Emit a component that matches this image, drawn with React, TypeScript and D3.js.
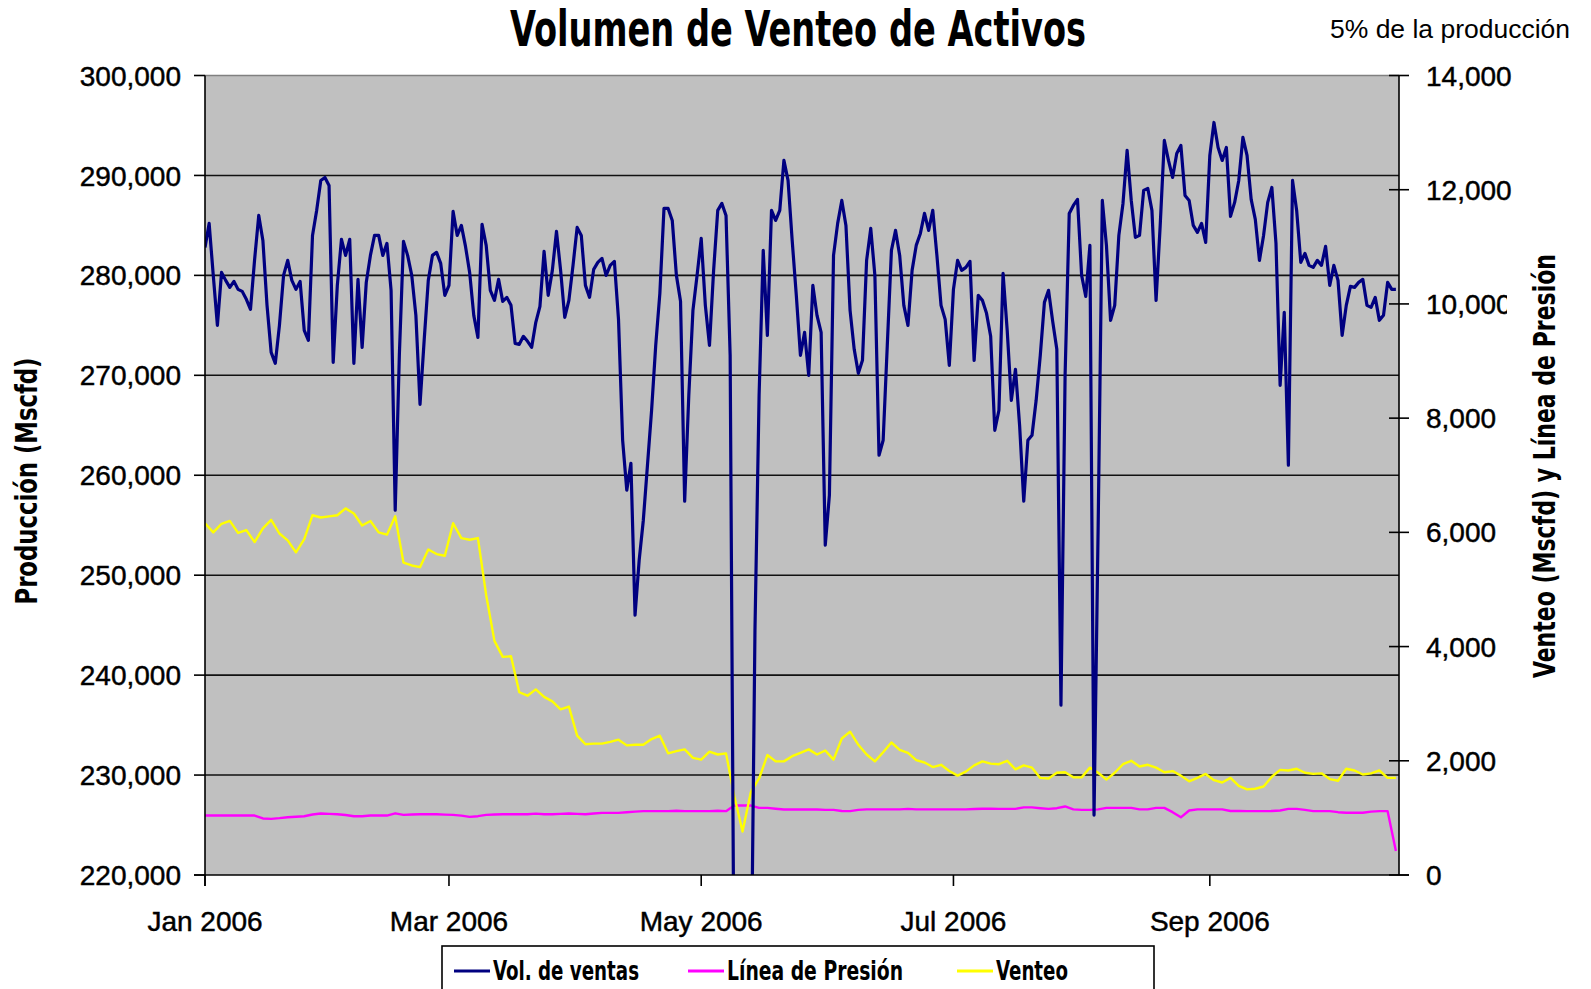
import React from 'react';
import * as d3 from 'd3';

// Vol. de ventas, daily from Jan 1 2006, in thousands of Mscfd (left axis)
const ventasK = [
  282.8, 285.2, 280.0, 275.0, 280.3, 279.5, 278.8, 279.4, 278.6, 278.4,
  277.6, 276.6, 281.6, 286.0, 283.5, 277.0, 272.3, 271.2, 275.0, 280.0,
  281.5, 279.5, 278.6, 279.4, 274.5, 273.5, 284.0, 286.5, 289.5, 289.8,
  289.0, 271.3, 279.0, 283.6, 282.0, 283.6, 271.2, 279.6, 272.8, 279.3,
  282.0, 284.0, 284.0, 282.0, 283.2, 278.5, 256.5, 272.0, 283.4, 282.0,
  280.0, 276.0, 267.1, 273.5, 279.5, 282.0, 282.3, 281.2, 278.0, 279.0,
  286.4, 284.0, 285.0, 282.9, 280.3, 276.0, 273.8, 285.1, 283.0, 278.5,
  277.5, 279.6, 277.4, 277.8, 277.0, 273.2, 273.1, 273.9, 273.4, 272.8,
  275.3, 276.9, 282.4, 278.0, 280.5, 284.4, 280.5, 275.8, 277.5, 281.0,
  284.8, 284.0, 279.0, 277.8, 280.6, 281.3, 281.7, 280.0, 281.0, 281.4,
  275.6, 263.5, 258.5, 261.2, 246.0, 251.5, 255.5, 261.0, 266.5, 273.0,
  278.2, 286.7, 286.7, 285.5, 280.0, 277.4, 257.4, 268.0, 276.5, 280.0,
  283.7, 277.0, 273.0, 280.5, 286.5, 287.2, 286.0, 272.0, 205.0, 205.0,
  205.0, 205.0, 205.0, 244.5, 268.0, 282.5, 274.0, 286.5, 285.5, 286.5,
  291.5, 289.5, 283.5, 278.0, 272.0, 274.3, 270.0, 279.0, 276.0, 274.3,
  253.0, 258.0, 282.0, 285.2, 287.5, 285.0, 276.5, 272.6, 270.2, 271.5,
  281.5, 284.7, 280.0, 262.0, 263.5, 273.0, 282.5, 284.5, 282.0, 277.0,
  275.0, 280.5, 283.0, 284.2, 286.2, 284.5, 286.5, 282.0, 277.0, 275.6,
  271.0, 278.6, 281.5, 280.5, 280.8, 281.4, 271.5, 278.0, 277.5, 276.2,
  273.9, 264.5, 266.5, 280.2, 274.5, 267.5, 270.6, 265.0, 257.4, 263.5,
  264.0, 267.5, 272.0, 277.3, 278.5, 275.4, 272.6, 237.0, 270.0, 286.2,
  287.0, 287.6, 280.0, 277.9, 283.0, 226.0, 255.0, 287.5, 283.0, 275.5,
  277.0, 284.0, 287.2, 292.5, 287.5, 283.8, 284.0, 288.5, 288.7, 286.5,
  277.5, 285.0, 293.5, 291.5, 289.8, 292.2, 293.0, 288.0, 287.5, 285.0,
  284.3, 285.2, 283.3, 292.0, 295.3, 292.8, 291.5, 292.8, 285.9, 287.3,
  289.5, 293.8, 292.0, 287.6, 285.6, 281.5, 284.0, 287.3, 288.8, 283.2,
  269.0, 276.3, 261.0, 289.5, 286.5, 281.3, 282.2, 281.0, 280.8, 281.5,
  281.0, 282.9, 279.0, 281.0, 279.5, 274.0, 277.0, 278.9, 278.8, 279.3,
  279.6, 277.0, 276.8, 277.8, 275.5, 276.0, 279.3, 278.6, 278.6,
];

// Venteo, every 2 days (right axis)
const venteo = [
  6160, 6000, 6150, 6200, 5990, 6040, 5830, 6070, 6220, 5980,
  5860, 5650, 5880, 6300, 6260, 6280, 6300, 6420, 6330, 6120,
  6200, 6000, 5960, 6280, 5470, 5420, 5390, 5700, 5620, 5590,
  6160, 5900, 5870, 5900, 4900, 4100, 3820, 3830, 3200, 3140,
  3250, 3120, 3040, 2900, 2950, 2440, 2290, 2300, 2300, 2330,
  2370, 2270, 2280, 2280, 2380, 2440, 2130, 2170, 2200, 2050,
  2020, 2160, 2110, 2130, 1380, 760, 1450, 1690, 2100, 1990,
  1990, 2080, 2140, 2200, 2110, 2180, 2020, 2390, 2510, 2280,
  2110, 1990, 2150, 2320, 2190, 2140, 2010, 1970, 1890, 1930,
  1820, 1740, 1810, 1920, 1990, 1950, 1940, 2000, 1850, 1920,
  1880, 1700, 1690, 1790, 1800, 1710, 1710, 1880, 1790, 1670,
  1790, 1940, 2000, 1900, 1930, 1880, 1800, 1820, 1740, 1640,
  1700, 1770, 1660, 1620, 1700, 1560, 1500, 1510, 1550, 1720,
  1840, 1830, 1860, 1790, 1770, 1780, 1680, 1650, 1860, 1830,
  1760, 1780, 1830, 1700, 1700,
];

// Línea de Presión, every 2 days (right axis)
const presion = [
  1041, 1041, 1041, 1041, 1041, 1041, 1041, 990, 983, 995,
  1012, 1020, 1029, 1060, 1076, 1070, 1064, 1050, 1029, 1029,
  1041, 1041, 1041, 1080, 1053, 1060, 1064, 1064, 1064, 1058,
  1053, 1040, 1018, 1030, 1053, 1060, 1064, 1064, 1064, 1064,
  1075, 1064, 1064, 1070, 1076, 1070, 1064, 1076, 1088, 1088,
  1088, 1100, 1110, 1118, 1118, 1118, 1118, 1125, 1118, 1118,
  1118, 1118, 1125, 1118, 1216, 1216, 1216, 1176, 1176, 1160,
  1147, 1147, 1147, 1147, 1147, 1140, 1140, 1120, 1118, 1140,
  1150, 1150, 1150, 1150, 1150, 1158, 1150, 1150, 1150, 1150,
  1150, 1150, 1150, 1155, 1160, 1160, 1158, 1158, 1158, 1185,
  1185, 1170, 1158, 1170, 1200, 1150, 1140, 1140, 1150, 1176,
  1176, 1176, 1176, 1150, 1150, 1176, 1176, 1100, 1010, 1130,
  1150, 1150, 1150, 1150, 1120, 1120, 1118, 1118, 1118, 1120,
  1130, 1158, 1158, 1140, 1118, 1118, 1118, 1100, 1090, 1090,
  1090, 1110, 1118, 1118, 420,
];

const legendItems = [
  { label: 'Vol. de ventas', color: '#000080', x: 454, len: 146 },
  { label: 'Línea de Presión', color: '#FF00FF', x: 688, len: 176 },
  { label: 'Venteo', color: '#FFFF00', x: 957, len: 72 },
];

const start = new Date(2006, 0, 1);
const ventas = ventasK.map(v => v * 1000);
const dailyDates = ventas.map((_, i) => d3.timeDay.offset(start, i));
const twoDayDates = venteo.map((_, i) => d3.timeDay.offset(start, i * 2));

const W = 1591;
const H = 989;
const left = 205, right = 1399, top = 75.5, bottom = 875;
const narrow = '"Liberation Sans Narrow", "Arial Narrow", "DejaVu Sans Condensed", sans-serif';
const sans = '"Liberation Sans", Arial, sans-serif';

const App: React.FC = () => {
  const end = new Date(start.getTime() + 288.75 * 864e5);
  const x = d3.scaleTime().domain([start, end]).range([left, right]);
  const yL = d3.scaleLinear().domain([220000, 300000]).range([bottom, top]);
  const yR = d3.scaleLinear().domain([0, 14000]).range([bottom, top]);

  const lineVentas = d3.line<number>().x((_, i) => x(dailyDates[i])).y(d => yL(d));
  const lineRight = d3.line<number>().x((_, i) => x(twoDayDates[i])).y(d => yR(d));

  const leftTicks = yL.ticks(8);
  const rightTicks = yR.ticks(7);
  const xTicks = x.ticks(d3.timeMonth.every(2)!);
  const fmt = d3.format(',');
  const fmtDate = d3.timeFormat('%b %Y');

  // tick labels look slightly heavier than plain regular in the source
  const labelStyle = { fontFamily: sans, fontSize: 28, stroke: '#000', strokeWidth: 0.45 };

  return (
    <svg width={W} height={H} style={{ position: 'absolute', left: 0, top: 0, background: '#fff' }}>
      <defs>
        <clipPath id="plotClip">
          <rect x={left} y={top} width={right - left} height={bottom - top} />
        </clipPath>
      </defs>
      <rect x={0} y={0} width={W} height={H} fill="#fff" />

      <text x={798} y={46} textAnchor="middle" fontFamily={narrow} fontWeight="bold" fontSize={50}
        textLength={576} lengthAdjust="spacingAndGlyphs">Volumen de Venteo de Activos</text>
      <text x={1330} y={38} fontFamily={sans} fontSize={25} textLength={240}
        lengthAdjust="spacingAndGlyphs">5% de la producción</text>

      <rect x={left} y={top} width={right - left} height={bottom - top} fill="#C0C0C0" />
      {leftTicks.filter(t => t > 220000 && t < 300000).map(t => (
        <line key={t} x1={left} x2={right} y1={yL(t)} y2={yL(t)} stroke="#111" strokeWidth={1.6} />
      ))}
      <line x1={left} x2={right} y1={top} y2={top} stroke="#808080" strokeWidth={1.6} />

      <g clipPath="url(#plotClip)" fill="none" strokeLinejoin="round">
        <path d={lineRight(presion) || ''} stroke="#FF00FF" strokeWidth={2.4} />
        <path d={lineRight(venteo) || ''} stroke="#FFFF00" strokeWidth={2.4} />
        <path d={lineVentas(ventas) || ''} stroke="#000080" strokeWidth={3.2} />
      </g>

      {/* axes */}
      <line x1={left} x2={left} y1={top} y2={bottom + 11} stroke="#000" strokeWidth={1.6} />
      <line x1={right} x2={right} y1={top} y2={bottom} stroke="#000" strokeWidth={1.6} />
      <line x1={left - 11} x2={right + 10} y1={bottom} y2={bottom} stroke="#000" strokeWidth={1.6} />

      {leftTicks.map(t => (
        <g key={t}>
          <line x1={left - 11} x2={left} y1={yL(t)} y2={yL(t)} stroke="#000" strokeWidth={1.6} />
          <text x={181} y={yL(t)} dy="0.36em" textAnchor="end" style={labelStyle}>{fmt(t)}</text>
        </g>
      ))}

      {rightTicks.map(t => (
        <g key={t}>
          <line x1={right - 10} x2={right + 10} y1={yR(t)} y2={yR(t)} stroke="#000" strokeWidth={1.6} />
          <text x={1426} y={yR(t)} dy="0.36em" style={labelStyle}>{fmt(t)}</text>
        </g>
      ))}

      {xTicks.map(t => (
        <g key={t.getTime()}>
          <line x1={x(t)} x2={x(t)} y1={bottom} y2={bottom + 11} stroke="#000" strokeWidth={1.6} />
          <text x={x(t)} y={931} textAnchor="middle" style={labelStyle}>{fmtDate(t)}</text>
        </g>
      ))}

      <text transform="translate(37,481) rotate(-90)" textAnchor="middle" fontFamily={narrow} fontWeight="bold"
        fontSize={30} textLength={247} lengthAdjust="spacingAndGlyphs">Producción (Mscfd)</text>

      <rect x={1507} y={245} width={70} height={445} fill="#fff" />
      <text transform="translate(1555,466) rotate(-90)" textAnchor="middle" fontFamily={narrow} fontWeight="bold"
        fontSize={30} textLength={424} lengthAdjust="spacingAndGlyphs">Venteo (Mscfd) y Línea de Presión</text>

      {/* legend */}
      <rect x={442} y={946} width={712} height={60} fill="#fff" stroke="#000" strokeWidth={1.6} />
      {legendItems.map(it => (
        <g key={it.label}>
          <line x1={it.x} x2={it.x + 36} y1={971} y2={971} stroke={it.color} strokeWidth={3} />
          <text x={it.x + 39} y={980} fontFamily={narrow} fontWeight="bold" fontSize={26} textLength={it.len}
            lengthAdjust="spacingAndGlyphs">{it.label}</text>
        </g>
      ))}
    </svg>
  );
};

export default App;
